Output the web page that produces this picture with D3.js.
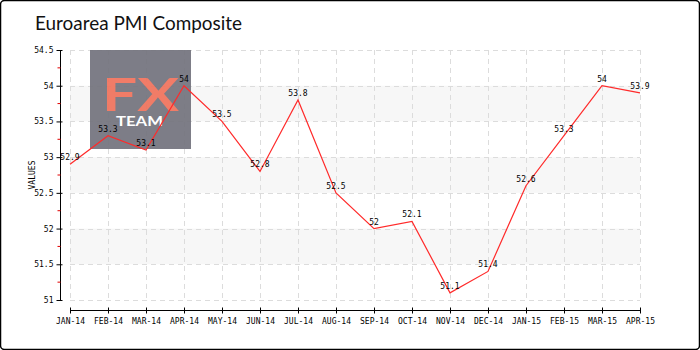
<!DOCTYPE html>
<html>
<head>
<meta charset="utf-8">
<script src="https://cdn.jsdelivr.net/npm/d3@7/dist/d3.min.js"></script>
<style>
  html, body { margin: 0; padding: 0; background: #fff; }
  svg { display: block; }
  .small { font-family: "DejaVu Sans Mono", monospace; font-size: 8px; fill: #000; }
</style>
</head>
<body>
<svg id="chart" width="700" height="350"></svg>
<script>
// Monthly composite PMI readings
const months = ["JAN-14","FEB-14","MAR-14","APR-14","MAY-14","JUN-14","JUL-14","AUG-14",
                "SEP-14","OCT-14","NOV-14","DEC-14","JAN-15","FEB-15","MAR-15","APR-15"];
const pmi = [52.9, 53.3, 53.1, 54, 53.5, 52.8, 53.8, 52.5, 52, 52.1, 51.1, 51.4, 52.6, 53.3, 54, 53.9];
const yTicks = [51, 51.5, 52, 52.5, 53, 53.5, 54, 54.5];
const yMinorTicks = [51.25, 51.75, 52.25, 52.75, 53.25, 53.75, 54.25];
const bandRanges = [[51.5, 52], [52.5, 53], [53.5, 54]];

const svg = d3.select("#chart");
const plotL = 70, plotR = 640, plotT = 50, plotB = 300;

const x = d3.scalePoint().domain(months).range([plotL, plotR]);
const y = d3.scaleLinear().domain([51, 54.5]).range([plotB, plotT]);

// outer frame
svg.append("rect").attr("x", 0.5).attr("y", 0.5).attr("width", 699).attr("height", 349)
  .attr("rx", 4).attr("fill", "#fff").attr("stroke", "#000").attr("stroke-width", 1.5);

// title
svg.append("text").attr("x", 35).attr("y", 30)
  .attr("font-family", "Lato, sans-serif").attr("font-size", 20)
  .attr("textLength", 207).attr("lengthAdjust", "spacingAndGlyphs")
  .attr("fill", "#111").text("Euroarea PMI Composite");

// alternating bands
svg.append("g").selectAll("rect").data(bandRanges).join("rect")
  .attr("x", plotL).attr("width", plotR - plotL)
  .attr("y", d => y(d[1])).attr("height", d => y(d[0]) - y(d[1]))
  .attr("fill", "#f7f7f7");

// grid
const grid = svg.append("g").attr("stroke", "#dcdcdc").attr("stroke-dasharray", "5,4").attr("stroke-width", 1);
grid.selectAll("line.v").data(months).join("line").attr("class", "v")
  .attr("x1", d => Math.round(x(d)) + 0.5).attr("x2", d => Math.round(x(d)) + 0.5)
  .attr("y1", plotT).attr("y2", plotB);
grid.selectAll("line.h").data(yTicks).join("line").attr("class", "h")
  .attr("x1", plotL).attr("x2", plotR)
  .attr("y1", d => Math.round(y(d)) + 0.5).attr("y2", d => Math.round(y(d)) + 0.5);

// logo block
const logo = svg.append("g").attr("opacity", 0.93);
logo.append("rect").attr("x", 90).attr("y", 50).attr("width", 101).attr("height", 99).attr("fill", "#74747e");
logo.append("text").attr("x", 140.5).attr("y", 111).attr("text-anchor", "middle")
  .attr("font-family", "Lato, sans-serif").attr("font-size", 46).attr("font-weight", 700)
  .attr("fill", "#f0735d").attr("textLength", 77).attr("lengthAdjust", "spacingAndGlyphs").text("FX");
logo.append("text").attr("x", 139.5).attr("y", 126).attr("text-anchor", "middle")
  .attr("font-family", "Lato, sans-serif").attr("font-size", 13).attr("font-weight", 700)
  .attr("fill", "#fff").attr("textLength", 47).attr("lengthAdjust", "spacingAndGlyphs").text("TEAM");

// y axis
const yAxis = svg.append("g").attr("transform", "translate(60.5,0)")
  .call(d3.axisLeft(y).tickValues(yTicks).tickFormat(d3.format("")).tickSize(4).tickPadding(3));
yAxis.select(".domain").attr("stroke", "#000").attr("d", `M0,${plotT}V${plotB}`);
yAxis.selectAll(".tick line").attr("x1", 2).attr("x2", -4).attr("stroke", "#000");
yAxis.selectAll(".tick text").attr("class", "small");
yAxis.attr("font-family", null).attr("font-size", null);
yAxis.append("g").selectAll("line").data(yMinorTicks).join("line")
  .attr("x1", -3).attr("x2", 0).attr("y1", d => y(d)).attr("y2", d => y(d))
  .attr("stroke", "#e00000");

svg.append("text").attr("class", "small")
  .attr("transform", `translate(35,${(plotT + plotB) / 2}) rotate(-90)`)
  .attr("text-anchor", "middle").text("VALUES");

// x axis
const xAxis = svg.append("g").attr("transform", "translate(0,310.5)")
  .call(d3.axisBottom(x).tickSize(3).tickPadding(5));
xAxis.select(".domain").attr("stroke", "#000").attr("d", `M${plotL},0H${plotR}`);
xAxis.selectAll(".tick line").attr("y1", -3).attr("y2", 3).attr("stroke", "#000");
xAxis.selectAll(".tick text").attr("class", "small");
xAxis.attr("font-family", null).attr("font-size", null);

// series line
const line = d3.line().x((d, i) => x(months[i])).y(d => y(d));
svg.append("path").datum(pmi).attr("d", line)
  .attr("fill", "none").attr("stroke", "#ff2a2a").attr("stroke-width", 1.2);

// value labels
svg.append("g").selectAll("text").data(pmi).join("text")
  .attr("class", "small").attr("text-anchor", "middle")
  .attr("x", (d, i) => x(months[i])).attr("y", d => y(d) - 4)
  .text(d => d);
</script>
</body>
</html>
